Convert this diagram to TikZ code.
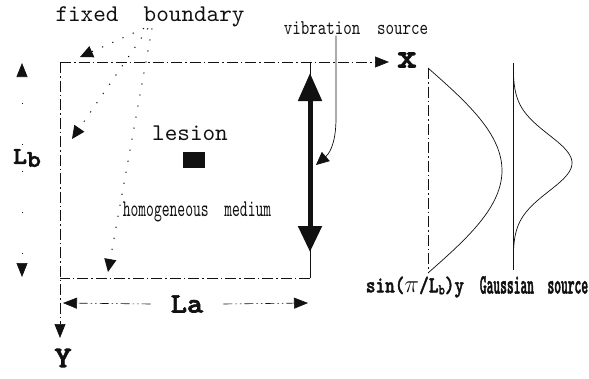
\documentclass[tikz,border=0pt]{standalone}
\usepackage{fontspec}
\setmainfont{Liberation Serif}
\newfontfamily\monofont{lmmono10-regular.otf}
\newfontfamily\narrowmono[FakeStretch=0.77]{lmmono10-regular.otf}
\newfontfamily\mediummono[FakeStretch=0.62]{lmmono10-regular.otf}
\newfontfamily\boldmono[FakeStretch=1.1,FakeBold=2.5]{lmmonolt10-bold.otf}
\newfontfamily\tallmono[FakeStretch=0.46,FakeBold=1.5]{lmmonolt10-bold.otf}
\newfontfamily\sinmono[FakeStretch=0.8,FakeBold=1.5]{lmmonolt10-bold.otf}
\usetikzlibrary{arrows.meta}
\definecolor{Ink}{HTML}{111111}

\tikzset{
  dashdot/.style={line width=.7pt,Ink,dash pattern=on 11pt off 3pt on 1.5pt off 3pt},
  dimline/.style={line width=.6pt,Ink,dash pattern=on 9pt off 3pt on 1.5pt off 3pt on 1.5pt off 3pt},
  leader/.style={line width=1pt,Ink,dash pattern=on 1.2pt off 10pt},
  tip/.style={-{Triangle[width=11pt,length=14pt]}},
  smalltip/.style={-{Triangle[width=12pt,length=13pt]}},
  axislbl/.style={font=\boldmono\fontsize{30}{30}\selectfont,inner sep=0pt,text=Ink},
  monolbl/.style={font=\monofont\fontsize{24}{24}\selectfont,inner sep=1pt,text=Ink}
}

\begin{document}
\begin{tikzpicture}[x=1pt,y=-1pt]
  \useasboundingbox (0,0) rectangle (589,378);
  % medium
  \coordinate (tl) at (60,62);
  \coordinate (tr) at (310,62);
  \coordinate (br) at (310,278);
  \coordinate (bl) at (60,278);
  \coordinate (xend) at (389,62);
  \coordinate (yend) at (60,338);
  \draw[line width=.7pt,Ink] (tr) -- (br);
  \draw[dashdot] (br) -- (bl);
  \draw[dashdot,tip] (tl) -- (xend);
  \draw[dashdot,tip] (tl) -- (yend);
  \node[axislbl,font=\boldmono\fontsize{34}{34}\selectfont] (xlbl) at (407,60) {x};
  \node[axislbl,font=\boldmono\fontsize{30}{30}\selectfont] (ylbl) at (63,358) {Y};

  % vibration source
  \coordinate (vtop) at (310,73);
  \coordinate (vbot) at (310,252);
  \draw[line width=5pt,Ink,{Triangle[width=23pt,length=28pt]}-{Triangle[width=23pt,length=26pt]}] (vtop) -- (vbot);
  \node[font=\narrowmono\fontsize{21}{21}\selectfont,text=Ink,inner sep=1pt] (vibrlbl) at (356,28) {vibration\ \ source};
  \coordinate (vibline) at (336,0);
  \coordinate (vibbend) at (336,118);
  \coordinate (vibtip) at (316,165);
  \draw[line width=.7pt,Ink,smalltip] (vibrlbl.south -| vibline) -- (vibbend)
    .. controls (336,140) and (331,152) .. (vibtip);

  % fixed boundary
  \node[monolbl] (fixlbl) at (150,17) {fixed\ \ boundary};
  \coordinate (fbtop) at (80,57);
  \coordinate (fbleft) at (72,139);
  \coordinate (fbbot) at (108,272);
  \draw[leader,smalltip] ([xshift=-6pt]fixlbl.south) -- (fbtop);
  \draw[leader,smalltip] ([xshift=-2pt]fixlbl.south) -- (fbleft);
  \draw[leader,smalltip] ([xshift=2pt]fixlbl.south) -- (fbbot);

  % lesion
  \node[fill=Ink,minimum width=22pt,minimum height=16pt,inner sep=0pt] (lesion) at (194,160) {};
  \node[monolbl] (lesionlbl) at (190,133) {lesion};
  \node[font=\mediummono\fontsize{24}{24}\selectfont,text=Ink,inner sep=1pt] (medium) at (197,212) {homogeneous\ \ medium};

  % dimensions
  \coordinate (lbtop) at (22,63);
  \coordinate (lbbot) at (22,277);
  \node[axislbl,font=\boldmono\fontsize{24}{24}\selectfont,inner sep=4pt] (lblbl) at (27,158)
    {L\raisebox{-3pt}{b}};
  \draw[dimline,dash pattern=on 1pt off 40pt,tip] (lblbl.north -| lbtop) -- (lbtop);
  \draw[dimline,dash pattern=on 1pt off 40pt,tip] (lblbl.south -| lbbot) -- (lbbot);
  \coordinate (laleft) at (63,303);
  \coordinate (laright) at (308,303);
  \node[axislbl,font=\boldmono\fontsize{28}{28}\selectfont,inner xsep=20pt] (lalbl) at (187,304) {La};
  \draw[dimline,tip] (lalbl.west) -- (laleft);
  \draw[dimline,tip] (lalbl.east) -- (laright);

  % sine profile
  \coordinate (sintop) at (428,68);
  \coordinate (sinbot) at (428,273);
  \draw[dashdot] (sintop) -- (sinbot);
  \draw[line width=.7pt,Ink] plot[domain=0:180,samples=60] ({428+74*sin(\x)},{68+\x/180*205});
  \node[font=\sinmono\fontsize{23}{23}\selectfont,text=Ink,inner sep=1pt] (sinlbl) at (415,287)
    {sin($\pi$/L\raisebox{-2pt}{\fontsize{15}{15}\selectfont b})y};

  % gaussian profile
  \coordinate (gtop) at (513,63);
  \coordinate (gbot) at (513,270);
  \draw[line width=.7pt,Ink] (gtop) -- (gbot);
  \draw[line width=.7pt,Ink] plot[domain=75:250,samples=80] ({513+59*exp(-((\x-163)/40)*((\x-163)/40))},\x);
  \node[font=\tallmono\fontsize{28}{28}\selectfont,text=Ink,inner sep=1pt] (gausslbl) at (534,285)
    {Gaussian\ \ source};
\end{tikzpicture}
\end{document}
